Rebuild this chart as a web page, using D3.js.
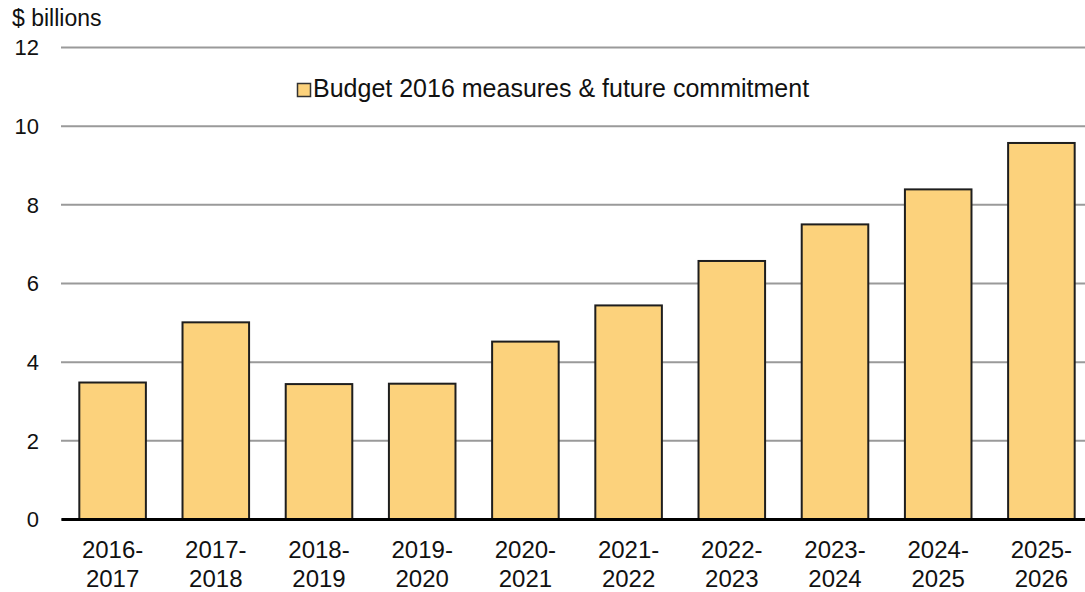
<!DOCTYPE html>
<html>
<head>
<meta charset="utf-8">
<script src="https://cdn.jsdelivr.net/npm/d3@7"></script>
<style>
  body { margin: 0; background: #fff; }
  svg { font-family: "Liberation Sans", Arial, sans-serif; }
</style>
</head>
<body>
<svg id="chart"></svg>
<script>
const years = ["2016-2017", "2017-2018", "2018-2019", "2019-2020", "2020-2021",
  "2021-2022", "2022-2023", "2023-2024", "2024-2025", "2025-2026"];
const spending = [3.47, 5.0, 3.43, 3.44, 4.51, 5.43, 6.56, 7.49, 8.38, 9.56];
const yTicks = [0, 2, 4, 6, 8, 10, 12];
const seriesName = "Budget 2016 measures & future commitment";

const width = 1085;
const height = 592;
const margin = { top: 47, left: 61, bottom: 73 };
const plotRight = 1093;

const svg = d3.select('#chart')
  .attr('width', width)
  .attr('height', height);

const xScale = d3.scaleBand()
  .domain(years)
  .range([margin.left, plotRight])
  .paddingInner(0.355)
  .paddingOuter(0.1775);

const yScale = d3.scaleLinear()
  .domain([0, 12])
  .range([height - margin.bottom, margin.top]);

// gridlines + y labels
const yAxis = d3.axisLeft(yScale)
  .tickValues(yTicks)
  .tickSize(-(plotRight - margin.left))
  .tickPadding(22);

svg.append('g')
  .attr('transform', `translate(${margin.left}, 0)`)
  .call(yAxis)
  .call(g => g.select('.domain').remove())
  .call(g => g.selectAll('.tick line')
    .attr('stroke', '#9a9a9a')
    .attr('stroke-width', 2))
  .call(g => g.selectAll('.tick text')
    .attr('font-size', 22)
    .attr('fill', '#111')
    .attr('dy', '0.36em'));

svg.append('text')
  .attr('x', 12)
  .attr('y', 26)
  .attr('font-size', 23)
  .attr('fill', '#111')
  .text('$ billions');

// bars
svg.selectAll('.bar')
  .data(spending)
  .enter()
  .append('rect')
  .attr('class', 'bar')
  .attr('x', (d, i) => xScale(years[i]))
  .attr('y', (d) => yScale(d))
  .attr('width', xScale.bandwidth())
  .attr('height', (d) => yScale(0) - yScale(d))
  .attr('fill', '#fcd27c')
  .attr('stroke', '#1e1e1e')
  .attr('stroke-width', 2);

// x axis
const xAxis = d3.axisBottom(xScale)
  .tickSize(0)
  .tickFormat('');

const xg = svg.append('g')
  .attr('transform', `translate(0, ${yScale(0)})`)
  .call(xAxis);

xg.select('.domain')
  .attr('stroke', '#000')
  .attr('stroke-width', 3);

xg.selectAll('.tick').each(function (d) {
  const parts = d.split('-');
  const t = d3.select(this).append('text')
    .attr('text-anchor', 'middle')
    .attr('font-size', 24)
    .attr('fill', '#111');
  t.append('tspan').attr('x', 0).attr('y', 39).text(parts[0] + '-');
  t.append('tspan').attr('x', 0).attr('y', 68).text(parts[1]);
});

// legend
const legend = svg.append('g')
  .attr('transform', 'translate(297, 83)');

legend.append('rect')
  .attr('x', 0.5)
  .attr('y', 0.5)
  .attr('width', 13)
  .attr('height', 13)
  .attr('fill', '#fcd27c')
  .attr('stroke', '#333')
  .attr('stroke-width', 1.5);

legend.append('text')
  .attr('x', 16)
  .attr('y', 14)
  .attr('font-size', 25)
  .attr('fill', '#111')
  .text(seriesName);
</script>
</body>
</html>
